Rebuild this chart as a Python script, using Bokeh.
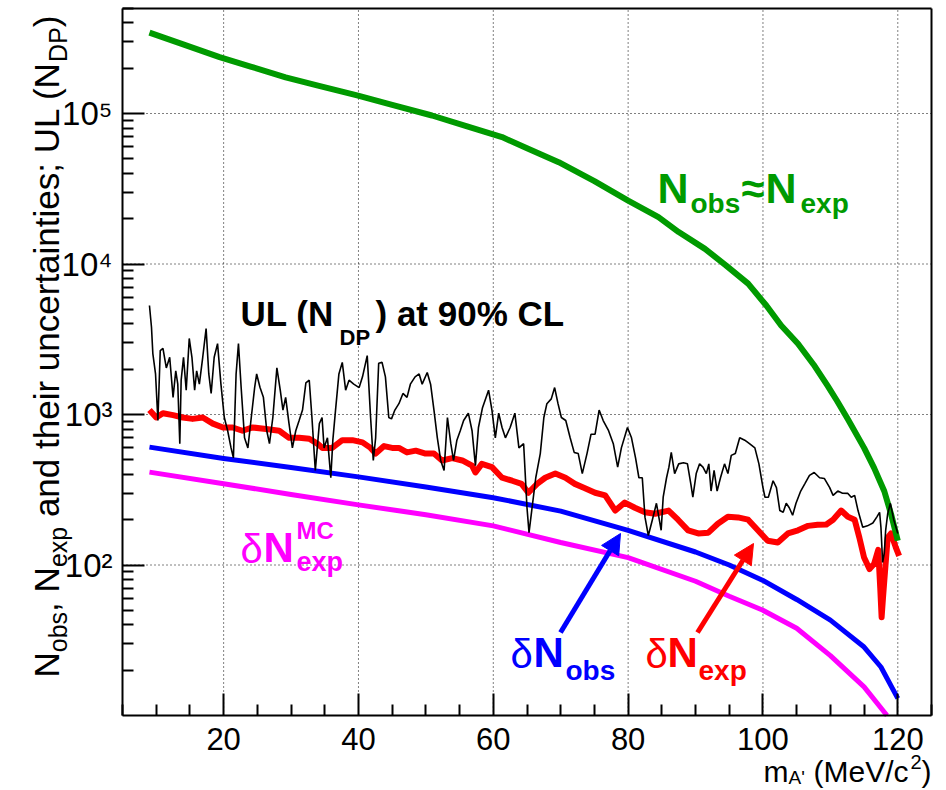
import math
from bokeh.plotting import figure
from bokeh.models import FixedTicker, Label, Arrow, NormalHead, LinearAxis, LogAxis
from bokeh.embed import file_html
from bokeh.resources import INLINE

# ---------------- data ----------------
# N_obs ~ N_exp (green)
nobs_x = [9.0, 14.0, 19.4, 24.0, 29.2, 34.0, 39.8, 45.0, 50.9, 56.0, 61.3, 65.0, 69.7, 75.0,
          80.0, 84.5, 87.5, 91.4, 94.5, 97.8, 100.5, 102.7, 105.2, 107.5, 109.6, 111.0, 112.6,
          115.0, 116.5, 118.0, 119.0, 120.0]
nobs_y = [345000, 288000, 237000, 205000, 174000, 153000, 132000, 114000, 97000, 82400, 69700,
          58700, 47500, 35500, 26400, 20500, 16300, 12600, 9800, 7400, 5300, 3900, 2950, 2150,
          1550, 1230, 930, 600, 440, 309, 218, 145]

# delta N_obs (blue)
dobs_x = [9.0, 20.0, 30.0, 40.0, 50.0, 60.0, 70.0, 80.0, 90.0, 95.0, 100.0, 105.0, 110.0,
          115.0, 117.5, 120.0]
dobs_y = [607, 510, 445, 385, 330, 280, 228, 170, 122, 100, 79, 59, 43, 28.5, 21, 13]

# delta N_exp^MC (magenta)
dmc_x = [9.0, 20.0, 30.0, 40.0, 50.0, 60.0, 70.0, 80.0, 90.0, 95.0, 100.0, 105.0, 110.0,
         115.0, 118.4]
dmc_y = [414, 347, 294, 251, 216, 182, 141, 112, 78, 62, 50, 38, 25, 15.5, 10.0]

# delta N_exp (red)
dexp_x = [9.0, 10.0, 11.0, 12.5, 13.95, 15.4, 16.9, 18.4, 19.9, 21.35, 22.8, 24.3, 26.3, 28.25,
          29.7, 31.2, 32.7, 33.9, 34.65, 36.1, 37.6, 39.1, 40.6, 41.8, 42.55, 43.8, 45.0, 46.0,
          47.2, 48.5, 49.95, 51.2, 52.4, 53.9, 55.4, 56.85, 57.35, 58.3, 59.8, 61.3, 62.8, 64.2,
          65.2, 66.5, 67.7, 69.2, 70.7, 72.1, 73.6, 75.1, 76.6, 78.1, 79.5, 81.0, 82.5, 84.0,
          86.0, 87.4, 88.9, 90.4, 91.9, 93.3, 94.8, 96.3, 97.8, 99.25, 100.7, 102.2, 103.7,
          105.2, 106.7, 108.1, 109.4, 110.4, 111.6, 112.6, 113.6, 114.3, 115.0, 115.8, 116.5,
          117.1, 117.4, 117.6, 117.8, 118.0, 118.5, 119.0, 119.7, 120.2]
dexp_y = [1070, 955, 1020, 990, 955, 935, 955, 870, 820, 820, 780, 820, 800, 780,
          700, 700, 690, 640, 600, 600, 675, 675, 653, 600, 550, 617, 600, 600,
          560, 575, 550, 550, 495, 513, 495, 457, 412, 470, 447, 380, 363, 346,
          302, 346, 380, 405, 380, 346, 324, 302, 290, 230, 260, 240, 224, 219,
          230, 200, 170, 162, 164, 188, 209, 207, 200, 170, 145, 141, 162,
          170, 182, 185, 186, 200, 230, 209, 200, 152, 112, 94, 102,
          126, 70, 45, 60, 79, 152, 162, 131, 115]

# UL(N_DP) at 90% CL (black)
ul_x = [9.0, 9.3, 9.5, 9.9, 10.25, 10.6, 11.0, 11.5, 12.0, 12.5, 12.9, 13.2, 13.5, 13.7, 14.05,
        14.45, 14.9, 15.3, 15.7, 16.0, 16.4, 16.9, 17.4, 17.8, 18.15, 18.6, 19.1, 19.6, 20.1,
        20.6, 21.1, 21.45, 21.85, 22.2, 22.6, 23.1, 23.6, 24.1, 24.6, 24.9, 25.4, 25.9, 26.4,
        26.8, 27.3, 27.9, 28.4, 28.8, 29.2, 29.7, 30.2, 30.7, 31.2, 31.7, 32.2, 32.7, 33.1,
        33.6, 34.2, 34.6, 34.9, 35.4, 35.9, 36.2, 36.6, 37.1, 37.6, 38.1, 38.6, 39.3, 40.1,
        40.6, 41.3, 41.8, 42.2, 42.55, 43.0, 43.5, 44.0, 44.5, 44.9, 45.4, 46.0, 46.6, 47.2,
        47.7, 48.4, 49.0, 49.45, 50.2, 50.7, 51.2, 51.7, 52.2, 52.7, 53.2, 53.7, 54.1, 54.6,
        55.1, 55.6, 56.3, 56.85, 57.35, 57.8, 58.4, 59.3, 59.8, 60.3, 60.8, 61.3, 61.8, 62.5,
        63.2, 63.8, 64.5, 65.0, 65.3, 65.7, 66.3, 66.97, 67.5, 67.95, 68.6, 69.1, 69.6, 70.1,
        70.75, 71.4, 72.0, 72.6, 73.2, 73.9, 74.5, 75.1, 75.7, 76.3, 77.1, 77.8, 78.45, 79.0,
        79.9, 80.5, 81.1, 81.6, 82.1, 82.5, 83.0, 83.6, 84.2, 84.9, 85.2, 85.7, 86.05, 86.4,
        86.9, 87.5, 88.2, 88.8, 89.3, 89.6, 90.1, 90.6, 91.1, 91.6, 91.97, 92.3, 92.75, 93.2,
        93.7, 94.3, 94.8, 95.3, 95.9, 96.55, 97.3, 98.0, 98.8, 99.4, 100.0, 100.3, 100.8,
        101.5, 102.0, 102.5, 103.0, 103.45, 103.9, 104.4, 104.9, 105.6, 106.2, 106.9, 107.6,
        108.4, 109.1, 109.9, 110.4, 111.1, 111.8, 112.6, 113.1, 113.6, 114.1, 114.8, 115.5,
        116.3, 116.9, 117.3, 117.5, 117.75, 118.0, 118.2, 118.5, 118.9, 119.4, 120.0]
ul_y = [5300, 3800, 2540, 1860, 912, 2660, 2750, 2040, 2400, 1300, 1950, 1590, 640, 1690, 2400,
        1450, 3200, 2400, 1450, 1950, 1590, 2400, 3720, 1860, 1380, 2400, 2960, 1590, 955,
        780, 600, 515, 1860, 2960, 1510, 700, 600, 955, 1510, 1860, 1510, 1300, 780,
        640, 955, 2040, 1450, 1070, 1300, 870, 600, 780, 912, 1070, 1620, 1690, 955,
        425, 870, 955, 600, 700, 380, 675, 1070, 1860, 2220, 1450, 1690, 1590, 1510,
        1780, 2460, 955, 495, 700, 2190, 2220, 1780, 955, 935, 1070, 1180, 1380, 1300,
        1590, 1780, 1860, 1590, 1900, 1590, 1070, 700, 495, 425, 955, 640, 495, 675,
        780, 912, 1020, 780, 457, 820, 1110, 1450, 1070, 700, 1020, 820, 700, 820,
        1020, 600, 640, 240, 164, 230, 380, 550, 955, 1180, 1270, 1510, 1180, 955,
        912, 700, 560, 550, 405, 550, 740, 740, 1070, 912, 780, 640, 447, 600,
        820, 700, 515, 380, 380, 208, 157, 200, 257, 170, 282, 380, 447, 560,
        405, 470, 478, 470, 346, 282, 405, 470, 447, 405, 470, 310, 425, 310,
        380, 470, 405, 535, 550, 700, 675, 640, 600, 470, 327, 282, 282,
        363, 327, 230, 224, 257, 240, 214, 257, 310, 346, 394, 412,
        380, 376, 327, 290, 310, 300, 299, 282, 290, 230, 178, 182,
        190, 209, 224, 178, 104, 120, 170, 219, 257, 200, 162]

x_ticks = [20, 40, 60, 80, 100, 120]
x_minor = [5, 10, 15, 25, 30, 35, 45, 50, 55, 65, 70, 75, 85, 90, 95, 105, 110, 115, 125]
y_ticks = [1e2, 1e3, 1e4, 1e5]
y_tick_labels = ["10\u00b2", "10\u00b3", "10\u2074", "10\u2075"]
y_minor = [m * 10 ** k for k in range(1, 6) for m in range(2, 10)]

# ---------------- geometry (canvas pixels -> data) ----------------
FONT = "Liberation Sans"
W, H = 940, 790
XMIN, XMAX = 5.0, 125.0               # histogram frame
PX_PER_X = 809.0 / 120.0              # x=5 at px 122, x=125 at px 931
PX_PER_DEC = 150.5                    # 10^5 at px y 113
MID = 0.35                            # baseline lies this many em below a label's middle


def X(px):
    return XMIN + (px - 122.0) / PX_PER_X


def Y(py):
    return 10 ** (5.0 - (py - 113.0) / PX_PER_DEC)


YMIN, YMAX = 10.0, Y(8)

p = figure(width=W, height=H, x_range=(X(0), X(W)), y_range=(Y(H), Y(0)),
           y_axis_type="log", x_axis_location=None, y_axis_location=None,
           output_backend="svg", toolbar_location=None,
           min_border_left=0, min_border_right=0, min_border_top=0, min_border_bottom=0)
p.background_fill_color = "white"
p.border_fill_color = "white"
p.outline_line_color = None
p.xgrid.visible = False
p.ygrid.visible = False

# dotted grid at the major ticks
p.segment(x0=x_ticks, y0=[YMIN] * len(x_ticks), x1=x_ticks, y1=[YMAX] * len(x_ticks),
          line_color="black", line_dash="1 3", line_width=1)
p.segment(x0=[XMIN] * len(y_ticks), y0=y_ticks, x1=[XMAX] * len(y_ticks), y1=y_ticks,
          line_color="black", line_dash="1 3", line_width=1)


def style_axis(ax, size):
    ax.axis_line_color = "black"
    ax.axis_line_width = 2
    ax.major_tick_in = 22
    ax.major_tick_out = 0
    ax.minor_tick_in = 11
    ax.minor_tick_out = 0
    ax.major_tick_line_color = "black"
    ax.major_tick_line_width = 2
    ax.minor_tick_line_color = "black"
    ax.minor_tick_line_width = 2
    ax.major_label_text_font = FONT
    ax.major_label_text_font_size = f"{size}px"
    ax.major_label_text_color = "black"


xaxis = LinearAxis(fixed_location=YMIN, bounds=(XMIN, XMAX),
                   ticker=FixedTicker(ticks=x_ticks, minor_ticks=x_minor))
style_axis(xaxis, 31)
xaxis.major_label_standoff = 12
p.add_layout(xaxis, "below")

yaxis = LogAxis(fixed_location=XMIN, bounds=(YMIN, YMAX),
                ticker=FixedTicker(ticks=y_ticks, minor_ticks=y_minor),
                major_label_overrides={float(t): s for t, s in zip(y_ticks, y_tick_labels)})
style_axis(yaxis, 33)
yaxis.major_label_standoff = 10
p.add_layout(yaxis, "left")

# plain frame lines on top and right
top = LinearAxis(fixed_location=YMAX, bounds=(XMIN, XMAX), ticker=FixedTicker(ticks=[]))
style_axis(top, 1)
top.major_label_text_color = None
p.add_layout(top, "above")
right = LogAxis(fixed_location=XMAX, bounds=(YMIN, YMAX), ticker=FixedTicker(ticks=[]))
style_axis(right, 1)
right.major_label_text_color = None
p.add_layout(right, "right")

# curves
p.line(dmc_x, dmc_y, line_color="#ff00ff", line_width=5, line_join="round")
p.line(dobs_x, dobs_y, line_color="#0000ff", line_width=5, line_join="round")
p.line(dexp_x, dexp_y, line_color="#ff0000", line_width=6, line_join="round")
p.line(nobs_x, nobs_y, line_color="#009a00", line_width=6, line_join="round")
p.line(ul_x, ul_y, line_color="black", line_width=1.6)

# arrows (tail near the label, head on the curve)
p.add_layout(Arrow(end=NormalHead(size=20, fill_color="#0000ff", line_color="#0000ff"),
                   x_start=X(560), y_start=Y(632), x_end=X(620), y_end=Y(533),
                   line_color="#0000ff", line_width=5))
p.add_layout(Arrow(end=NormalHead(size=20, fill_color="#ff0000", line_color="#ff0000"),
                   x_start=X(697), y_start=Y(632), x_end=X(753), y_end=Y(543),
                   line_color="#ff0000", line_width=5))


def txt(px, py, s, size, color, bold=True, angle=0.0):
    """px, py: start of the text on its baseline (canvas pixels)."""
    if angle == 0.0:
        ax_, ay_ = px, py - MID * size
    else:  # rotated +90 deg: the baseline is a vertical line at px
        ax_, ay_ = px - MID * size, py
    p.add_layout(Label(x=X(ax_), y=Y(ay_), text=s, text_font=FONT, text_font_size=f"{size}px",
                       text_font_style="bold" if bold else "normal", text_color=color,
                       text_baseline="middle", text_align="left", angle=angle))


# N_obs ~ N_exp
G = "#009a00"
txt(657, 203, "N", 43, G)
txt(690, 213, "obs", 28, G)
txt(741, 203, "\u2248", 42, G)
txt(765, 203, "N", 43, G)
txt(800, 213, "exp", 28, G)

# UL (N_DP) at 90% CL
txt(240, 325, "UL (N", 35, "black")
txt(339, 345, "DP", 22, "black")
txt(375, 325, ") at 90% CL", 35, "black")

# delta N_exp^MC
M = "#ff00ff"
txt(240, 562, "\u03b4", 40, M, bold=False)
txt(263, 562, "N", 42, M)
txt(296, 538, "MC", 24, M)
txt(296, 571, "exp", 27, M)

# delta N_obs
B = "#0000ff"
txt(510, 667, "\u03b4", 40, B, bold=False)
txt(533, 667, "N", 42, B)
txt(565, 680, "obs", 28, B)

# delta N_exp
R = "#ff0000"
txt(645, 667, "\u03b4", 40, R, bold=False)
txt(667, 667, "N", 42, R)
txt(698, 680, "exp", 28, R)

# y-axis title (rotated, reads bottom to top)
A = math.pi / 2
txt(58, 677, "N", 35, "black", bold=False, angle=A)
txt(66, 651.7, "obs", 25, "black", bold=False, angle=A)
txt(58, 611.4, ",", 35, "black", bold=False, angle=A)
txt(58, 591.9, "N", 35, "black", bold=False, angle=A)
txt(66, 566.6, "exp", 25, "black", bold=False, angle=A)
txt(58, 516.6, "and their uncertainties; UL (N", 35, "black", bold=False, angle=A)
txt(66, 61.4, "DP", 25, "black", bold=False, angle=A)
txt(58, 26.7, ")", 35, "black", bold=False, angle=A)

# x-axis title, right aligned to the frame
txt(763, 781, "m", 30, "black", bold=False)
txt(788, 784, "A'", 19, "black", bold=False)
txt(813, 781, "(MeV/c", 30, "black", bold=False)
txt(910, 768, "2", 20, "black", bold=False)
txt(921, 781, ")", 30, "black", bold=False)

open("out.html", "w").write(file_html(p, INLINE))
